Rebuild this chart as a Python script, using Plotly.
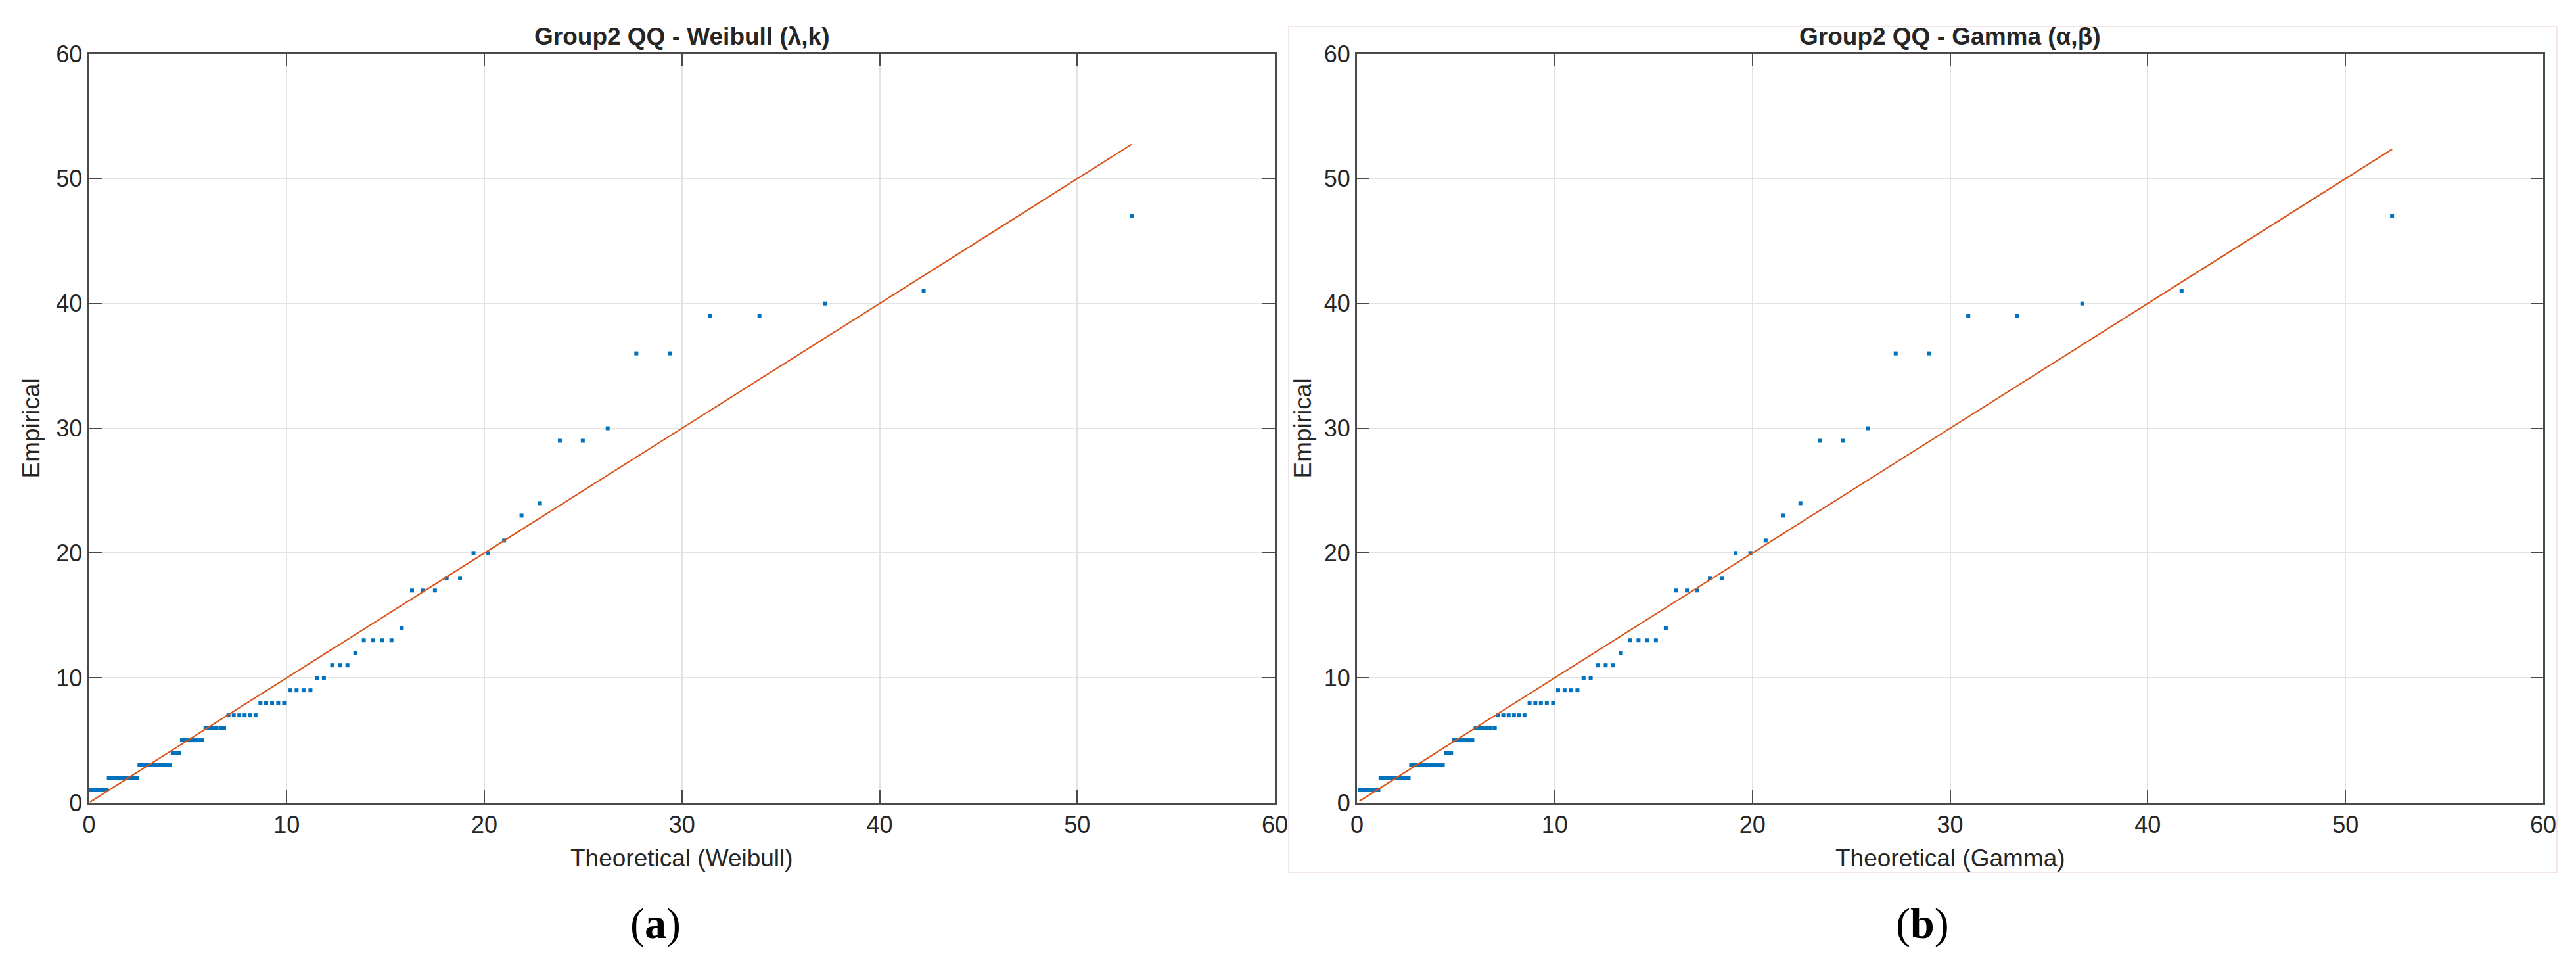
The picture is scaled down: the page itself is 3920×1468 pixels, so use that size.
import plotly.graph_objects as go

# ── Data ──────────────────────────────────────────────────────────────────────

# sorted empirical values, shared by both panels
empirical = [
    1, 1, 1, 1, 1, 1, 1, 1, 1,
    2, 2, 2, 2, 2, 2, 2, 2, 2, 2, 2, 2, 2,
    3, 3, 3, 3, 3, 3, 3, 3, 3, 3, 3, 3,
    4, 4, 4,
    5, 5, 5, 5, 5, 5, 5,
    6, 6, 6, 6, 6, 6,
    7, 7, 7, 7, 7, 7,
    8, 8, 8, 8, 8,
    9, 9, 9, 9,
    10, 10,
    11, 11, 11,
    12,
    13, 13, 13, 13,
    14,
    17, 17, 17,
    18, 18,
    20, 20,
    21, 23, 24,
    29, 29, 30,
    36, 36,
    39, 39,
    40, 41, 47,
]

theo_weibull = [
    0.05, 0.15, 0.25, 0.36, 0.46, 0.57, 0.67, 0.78, 0.89,
    1.00, 1.11, 1.22, 1.34, 1.45, 1.57, 1.68, 1.80, 1.92, 2.05, 2.17, 2.29, 2.42,
    2.55, 2.68, 2.81, 2.94, 3.08, 3.22, 3.36, 3.50, 3.64, 3.78, 3.93, 4.08,
    4.23, 4.39, 4.54,
    4.70, 4.86, 5.03, 5.19, 5.36, 5.53, 5.71,
    5.89, 6.07, 6.26, 6.44, 6.64, 6.83,
    7.05, 7.32, 7.60, 7.87, 8.15, 8.42,
    8.67, 8.96, 9.26, 9.57, 9.87,
    10.19, 10.50, 10.85, 11.20,
    11.55, 11.88,
    12.30, 12.70, 13.07,
    13.47,
    13.90, 14.36, 14.83, 15.30,
    15.82,
    16.34, 16.89, 17.50,
    18.09, 18.77,
    19.45, 20.19,
    21.00, 21.88, 22.81,
    23.82, 24.98, 26.24,
    27.69, 29.39,
    31.41, 33.92,
    37.25, 42.23, 52.75,
]

theo_gamma = [
    0.13, 0.25, 0.36, 0.48, 0.60, 0.72, 0.84, 0.96, 1.08,
    1.19, 1.31, 1.43, 1.54, 1.66, 1.78, 1.90, 2.02, 2.14, 2.26, 2.38, 2.50, 2.61,
    2.74, 2.88, 3.02, 3.16, 3.30, 3.44, 3.59, 3.73, 3.88, 4.03, 4.18, 4.34,
    4.50, 4.63, 4.76,
    4.90, 5.05, 5.21, 5.37, 5.53, 5.68, 5.83,
    6.00, 6.19, 6.38, 6.58, 6.77, 6.97,
    7.13, 7.40, 7.67, 7.94, 8.21, 8.47,
    8.73, 9.02, 9.30, 9.60, 9.92,
    10.17, 10.50, 10.83, 11.15,
    11.46, 11.82,
    12.20, 12.58, 12.96,
    13.35,
    13.80, 14.24, 14.66, 15.12,
    15.62,
    16.13, 16.69, 17.22,
    17.85, 18.45,
    19.15, 19.90,
    20.67, 21.54, 22.43,
    23.43, 24.57, 25.84,
    27.25, 28.93,
    30.92, 33.40,
    36.69, 41.71, 52.36,
]

# reference line y = x, from first to last theoretical quantile
ref_weibull = [0.05, 52.75]
ref_gamma = [0.13, 52.36]

axis_ticks = [0, 10, 20, 30, 40, 50, 60]

panel_titles = ["Group2 QQ - Weibull (λ,k)", "Group2 QQ - Gamma (α,β)"]
x_titles = ["Theoretical (Weibull)", "Theoretical (Gamma)"]
y_title = "Empirical"
sub_labels = ["(<b>a</b>)", "(<b>b</b>)"]

# ── Style ────────────────────────────────────────────────────────────────────

# the page body keeps its default 8px margin, so the figure is made 16px
# smaller and every layout position is measured from that offset
PAGE_W, PAGE_H, BODY = 3920, 1468, 8
W, H = PAGE_W - 2 * BODY, PAGE_H - 2 * BODY

BLUE = "#0072BD"
ORANGE = "#D95319"
AXC = "#4a4a4a"
TXT = "#262626"
GRID = "#e3e3e3"
SANS = "Liberation Sans, Arial, sans-serif"
SERIF = "Liberation Serif, Times New Roman, serif"


def px(x):
    return (x - BODY) / W


def py(y):
    return 1 - (y - BODY) / H


X_DOMS = [[px(135.6), px(1940)], [px(2065), px(3870)]]
Y_DOM = [py(1221), py(82)]


def _axis(dom, anchor):
    return dict(
        domain=dom, anchor=anchor, range=[0, 60], automargin=False,
        tickvals=axis_ticks, ticktext=[str(t) for t in axis_ticks],
        ticks="inside", ticklen=19, tickwidth=2, tickcolor=AXC,
        showline=True, linecolor=AXC, linewidth=3, mirror="ticks",
        showgrid=True, gridcolor=GRID, gridwidth=2, zeroline=False,
        tickfont=dict(family=SANS, size=36, color=TXT),
    )


fig = go.Figure()

for i, (tx, ref) in enumerate([(theo_weibull, ref_weibull), (theo_gamma, ref_gamma)]):
    xa, ya = ("x", "y") if i == 0 else ("x2", "y2")
    fig.add_trace(go.Scatter(
        x=tx, y=empirical, xaxis=xa, yaxis=ya, mode="markers",
        marker=dict(symbol="square", size=6, color=BLUE, line=dict(width=0)),
        showlegend=False,
    ))
    fig.add_trace(go.Scatter(
        x=ref, y=ref, xaxis=xa, yaxis=ya, mode="lines",
        line=dict(color=ORANGE, width=2.2), showlegend=False,
    ))

fig.update_layout(
    width=W, height=H,
    paper_bgcolor="white", plot_bgcolor="white",
    margin=dict(l=0, r=0, t=0, b=0),
    xaxis=_axis(X_DOMS[0], "y"),
    yaxis=_axis(Y_DOM, "x"),
    xaxis2=_axis(X_DOMS[1], "y2"),
    yaxis2=_axis(Y_DOM, "x2"),
)

# faint frame round panel (b), as in the source figure
fig.add_shape(type="rect", xref="paper", yref="paper",
              x0=px(1961), x1=px(3891), y0=py(1327), y1=py(40),
              line=dict(color="#f2e4e8", width=2), layer="below")

for i in range(2):
    cx = (X_DOMS[i][0] + X_DOMS[i][1]) / 2
    fig.add_annotation(text=f"<b>{panel_titles[i]}</b>", x=cx, y=py(78),
                       xref="paper", yref="paper", xanchor="center", yanchor="bottom",
                       showarrow=False, font=dict(family=SANS, size=37, color=TXT))
    fig.add_annotation(text=x_titles[i], x=cx, y=py(1305),
                       xref="paper", yref="paper", xanchor="center", yanchor="middle",
                       showarrow=False, font=dict(family=SANS, size=37, color=TXT))
    fig.add_annotation(text=y_title, x=px(47 if i == 0 else 1982), y=(Y_DOM[0] + Y_DOM[1]) / 2,
                       xref="paper", yref="paper", xanchor="center", yanchor="middle",
                       textangle=-90, showarrow=False,
                       font=dict(family=SANS, size=37, color=TXT))
    fig.add_annotation(text=sub_labels[i], x=px(997 if i == 0 else 2925), y=py(1405),
                       xref="paper", yref="paper", xanchor="center", yanchor="middle",
                       showarrow=False, font=dict(family=SERIF, size=66, color="black"))

fig.write_html("out.html")
